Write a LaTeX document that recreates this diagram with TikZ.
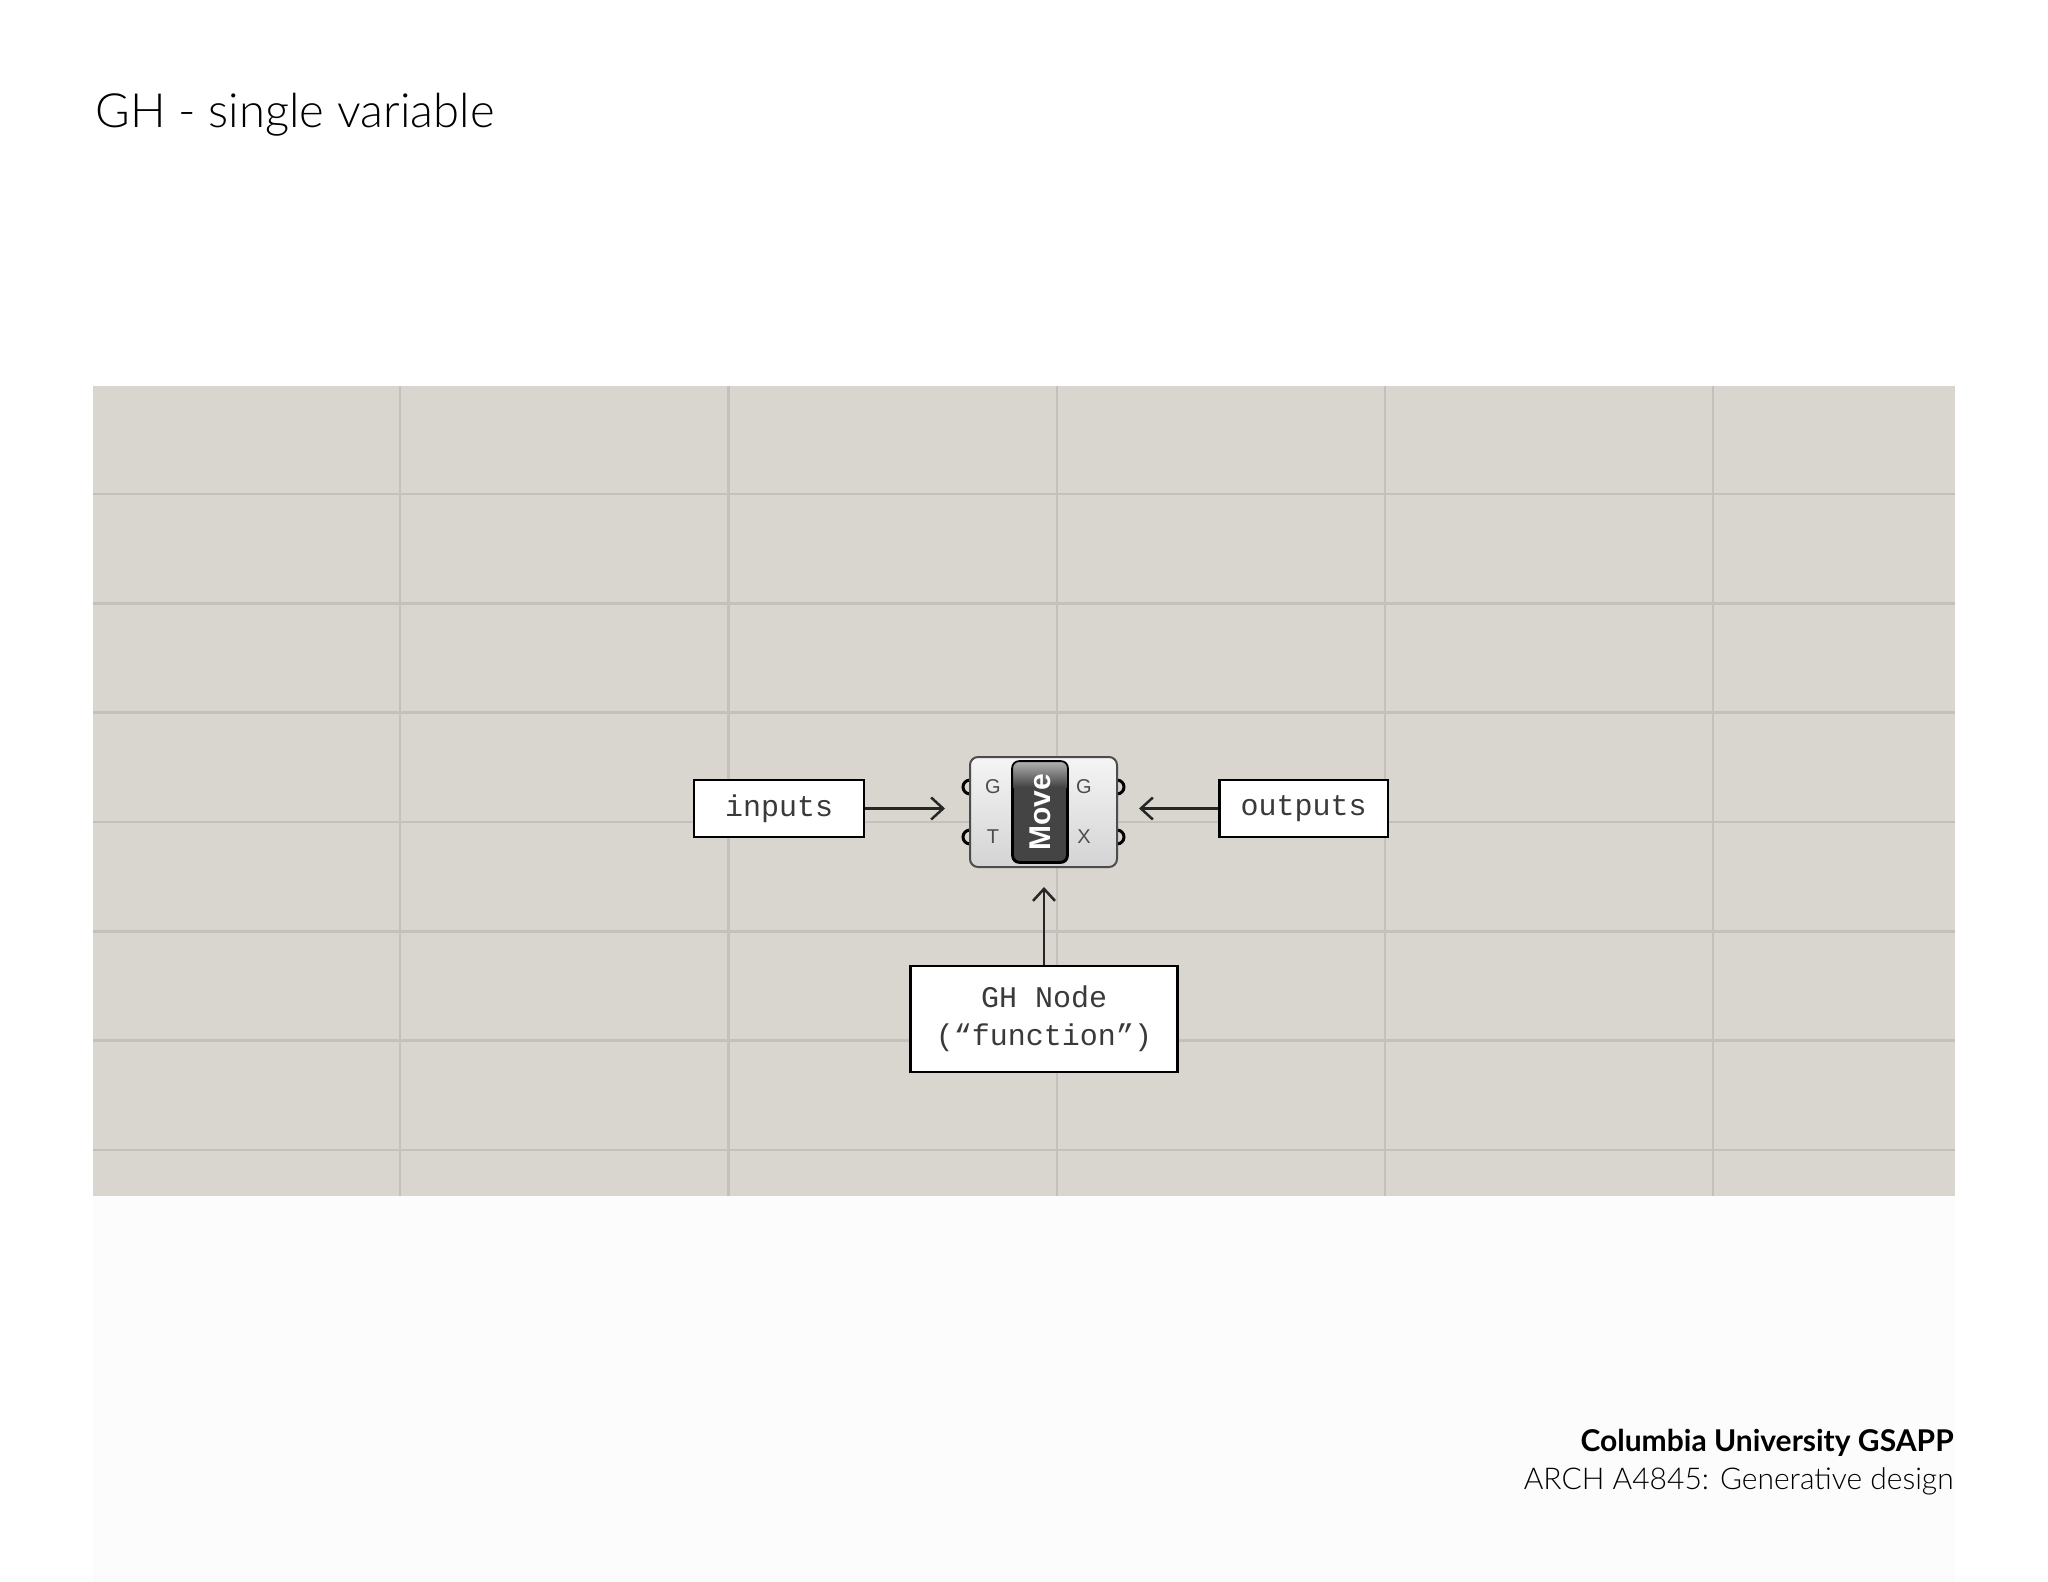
\documentclass[tikz,border=0pt]{standalone}
\usepackage{fontspec}
\setmainfont{Lato}
\newfontfamily\titlefont{Lato Light}
\newfontfamily\monofont{Liberation Mono}
\newfontfamily\ghfont{Liberation Sans}
\usetikzlibrary{arrows.meta,calc}
\definecolor{canvas}{HTML}{D9D5CF}
\definecolor{gridc}{HTML}{C4C0BB}
\definecolor{txt}{HTML}{3A3A3A}
\definecolor{pillc}{HTML}{444444}
\tikzset{
  gridline/.style={draw=gridc, line width=1.3pt},
  labelbox/.style={draw=black, fill=white, line width=1.3pt, inner sep=0pt,
    font=\monofont\fontsize{15}{19}\selectfont, text=txt, align=center},
  conn/.style={draw=black!85, line width=1.25pt, -{Straight Barb[length=6pt,width=11pt]}},
  portlbl/.style={font=\ghfont\fontsize{10}{10}\selectfont, text=black!70, inner sep=0pt},
  port/.style={draw=black, line width=1.5pt, fill=canvas},
}
\begin{document}
\begin{tikzpicture}[x=0.5pt,y=-0.5pt]
\useasboundingbox (0,0) rectangle (2048,1582);
\fill[white] (0,0) rectangle (2048,1582);
\fill[black!1] (93,1196) rectangle (1955,1582);
% canvas
\fill[canvas] (93,386) rectangle (1955,1196);
\foreach \gx in {400,728.5,1057,1385,1713} \draw[gridline] (\gx,386) -- (\gx,1196);
\foreach \gy in {494,603.3,712.6,822,931.3,1040.6,1150} \draw[gridline] (93,\gy) -- (1955,\gy);
% title
\node[anchor=base west, inner sep=0pt, font=\titlefont\fontsize{23.6}{28}\selectfont] (title) at (95,128) {GH - single variable};
% footer
\node[anchor=base east, inner sep=0pt, font=\bfseries\fontsize{15}{17}\selectfont] (uni) at (1954,1451) {Columbia University GSAPP};
\node[anchor=base east, inner sep=0pt, font=\titlefont\fontsize{15}{17}\selectfont] (course) at (1954,1489) {ARCH A4845: Generative design};
% ports (drawn under the component body)
\draw[port] (970,787) circle[radius=3.5pt];
\draw[port] (970,837) circle[radius=3.5pt];
\draw[port] (1117,787) circle[radius=3.5pt];
\draw[port] (1117,837) circle[radius=3.5pt];
% component body
\node[draw=black!70, line width=1pt, rounded corners=4pt, top color=black!4, bottom color=black!17,
  minimum width=73.5pt, minimum height=55pt, inner sep=0pt] (comp) at (1043.5,812) {};
% pill
\node[draw=black, line width=0.9pt, rounded corners=3.5pt, fill=pillc, minimum width=27pt,
  minimum height=50pt, inner sep=0pt] (pill) at (1040,812) {};
\begin{scope}
  \clip[rounded corners=3.5pt] (pill.south west) rectangle (pill.north east);
  \shade[top color=black!30, bottom color=pillc] (pill.north west) rectangle ([yshift=-13pt]pill.north east);
\end{scope}
\draw[line width=0.9pt, rounded corners=3.5pt] (pill.south west) rectangle (pill.north east);
\node[rotate=90, text=white, inner sep=0pt, font=\ghfont\bfseries\fontsize{15}{15}\selectfont] (move) at (pill.center) {Move};
% port labels
\node[portlbl] (lg) at (993,787) {G};
\node[portlbl] (lt) at (993,837) {T};
\node[portlbl] (rg) at (1084,787) {G};
\node[portlbl] (rx) at (1084,837) {X};
% label boxes
\node[labelbox, minimum width=85pt, minimum height=28.5pt] (inputs) at (779,808.5) {inputs};
\node[labelbox, minimum width=84.25pt, minimum height=28.5pt] (outputs) at (1303.7,808.5) {outputs};
\node[labelbox, minimum width=133.75pt, minimum height=53pt] (ghnode) at (1044,1019) {GH Node\\(“function”)};
% connectors
\coordinate (inTip) at (945,808.5);
\coordinate (outTip) at (1139,808.5);
\coordinate (upTip) at (1044,887);
\draw[conn] (inputs.east) -- (inTip);
\draw[conn] (outputs.west) -- (outTip);
\draw[conn] (ghnode.north) -- (upTip);
\end{tikzpicture}
\end{document}
